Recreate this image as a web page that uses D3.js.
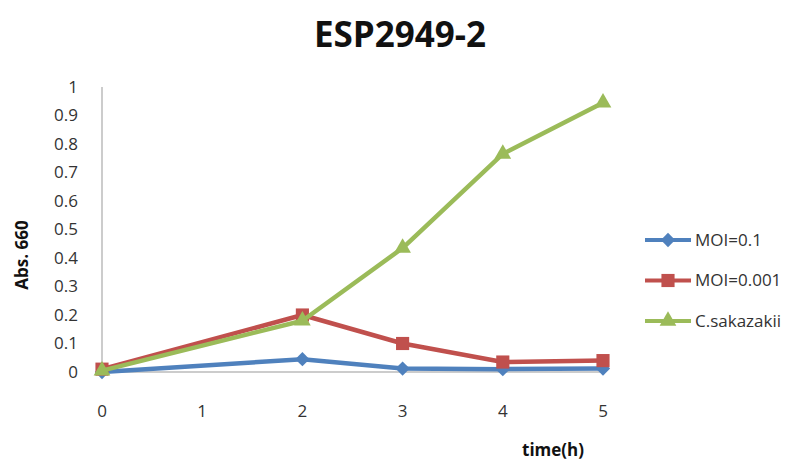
<!DOCTYPE html>
<html>
<head>
<meta charset="utf-8">
<script src="https://cdn.jsdelivr.net/npm/d3@7"></script>
<style>
  body { margin: 0; background: #fff; }
  text { font-family: "Open Sans", "DejaVu Sans", sans-serif; }
</style>
</head>
<body>
<div id="chart"></div>
<script>
'use strict'

const hours = [0, 2, 3, 4, 5];
const xTicks = [0, 1, 2, 3, 4, 5];
const yTicks = [0, 0.1, 0.2, 0.3, 0.4, 0.5, 0.6, 0.7, 0.8, 0.9, 1];
const seriesNames = ["MOI=0.1", "MOI=0.001", "C.sakazakii"];
const moi01 = [0.0, 0.045, 0.012, 0.01, 0.012];
const moi0001 = [0.01, 0.2, 0.1, 0.035, 0.04];
const sakazakii = [0.005, 0.18, 0.435, 0.765, 0.945];

const width = 809;
const height = 462;
const colors = ["#4F81BD", "#C0504D", "#9BBB59"];
const symbols = [d3.symbolDiamond2, d3.symbolSquare2, d3.symbolTriangle2];
const symbolSizes = [130, 220, 200];

const svg = d3.select("#chart")
    .append("svg")
    .attr("width", width)
    .attr("height", height);

const x = d3.scaleLinear()
    .domain([0, 5])
    .range([102, 603]);

const y = d3.scaleLinear()
    .domain([0, 1])
    .range([372, 87]);

// Title
svg.append("text")
    .attr("x", 400)
    .attr("y", 47)
    .attr("text-anchor", "middle")
    .style("font-size", "35px")
    .style("font-weight", "bold")
    .style("fill", "#111")
    .text("ESP2949-2");

// Axes lines
svg.append("line")
    .attr("x1", x(0)).attr("x2", x(0))
    .attr("y1", y(1)).attr("y2", y(0))
    .attr("stroke", "#999").attr("stroke-width", 1);

svg.append("line")
    .attr("x1", x(0)).attr("x2", x(5))
    .attr("y1", y(0)).attr("y2", y(0))
    .attr("stroke", "#999").attr("stroke-width", 1);

// Y tick labels
svg.selectAll(".ytick")
    .data(yTicks)
    .enter().append("text")
    .attr("class", "ytick")
    .attr("x", 78)
    .attr("y", d => y(d))
    .attr("dy", "0.35em")
    .attr("text-anchor", "end")
    .style("font-size", "17px")
    .style("fill", "#333")
    .text(d => d);

// X tick labels
svg.selectAll(".xtick")
    .data(xTicks)
    .enter().append("text")
    .attr("class", "xtick")
    .attr("x", d => x(d))
    .attr("y", 417)
    .attr("text-anchor", "middle")
    .style("font-size", "17px")
    .style("fill", "#333")
    .text(d => d);

// Axis titles
svg.append("text")
    .attr("transform", "translate(28,255) rotate(-90)")
    .attr("text-anchor", "middle")
    .style("font-size", "17px")
    .style("font-weight", "bold")
    .style("fill", "#111")
    .text("Abs. 660");

svg.append("text")
    .attr("x", 553)
    .attr("y", 456)
    .attr("text-anchor", "middle")
    .style("font-size", "17px")
    .style("font-weight", "bold")
    .style("fill", "#111")
    .text("time(h)");

// Series
const allSeries = [moi01, moi0001, sakazakii];
const line = d3.line()
    .x((d, i) => x(hours[i]))
    .y(d => y(d));

allSeries.forEach((vals, si) => {
    svg.append("path")
        .datum(vals)
        .attr("d", line)
        .attr("fill", "none")
        .attr("stroke", colors[si])
        .attr("stroke-width", 4.5)
        .attr("stroke-linejoin", "round");

    svg.selectAll(".m" + si)
        .data(vals)
        .enter().append("path")
        .attr("class", "m" + si)
        .attr("d", d3.symbol().type(symbols[si]).size(symbolSizes[si]))
        .attr("transform", (d, i) => `translate(${x(hours[i])},${y(d)})`)
        .attr("fill", colors[si]);
});

// Legend
const legend = svg.selectAll(".legend")
    .data(seriesNames)
    .enter().append("g")
    .attr("class", "legend")
    .attr("transform", (d, i) => `translate(645,${240 + i * 40.5})`);

legend.append("line")
    .attr("x1", 0).attr("x2", 46)
    .attr("y1", 0).attr("y2", 0)
    .attr("stroke", (d, i) => colors[i])
    .attr("stroke-width", 4);

legend.append("path")
    .attr("d", (d, i) => d3.symbol().type(symbols[i]).size(symbolSizes[i])())
    .attr("transform", "translate(23,0)")
    .attr("fill", (d, i) => colors[i]);

legend.append("text")
    .attr("x", 50)
    .attr("y", 0)
    .attr("dy", "0.35em")
    .style("font-size", "17px")
    .style("fill", "#333")
    .text(d => d);
</script>
</body>
</html>
